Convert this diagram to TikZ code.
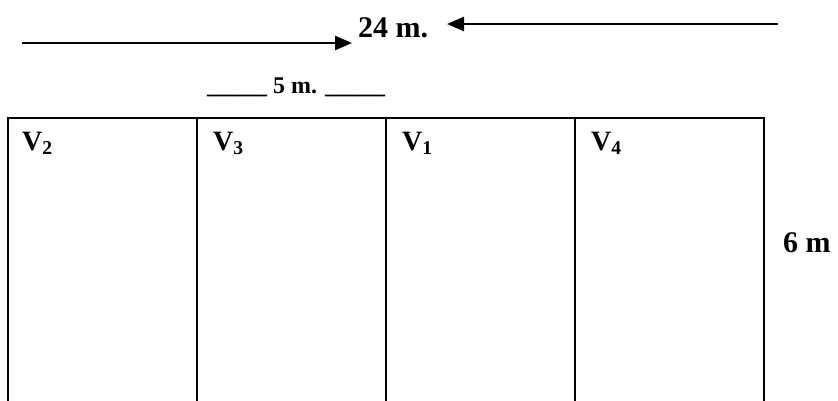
\documentclass[tikz,border=0pt]{standalone}
\usepackage{fontspec}
\setmainfont{Liberation Serif}
\usetikzlibrary{arrows.meta}
\begin{document}
\begin{tikzpicture}[x=1pt,y=-1pt,
  wall/.style={line width=2.7pt,line cap=rect},
  dimarrow/.style={line width=2.6pt,-{Triangle[length=17pt,width=14pt]}},
  biglabel/.style={inner sep=0pt,anchor=base west,font=\bfseries\fontsize{30}{36}\selectfont},
  midlabel/.style={inner sep=0pt,anchor=base west,font=\bfseries\fontsize{24}{29}\selectfont},
  vlabel/.style={inner sep=0pt,anchor=base west,font=\bfseries\fontsize{28}{34}\selectfont}]
\useasboundingbox (0,0) rectangle (838,400);
% top dimension
\node[biglabel] (total) at (358,37) {24 m.};
\coordinate (lstart) at (22,43);
\coordinate (ltip) at (352,43);
\coordinate (rstart) at (778,24);
\coordinate (rtip) at (447,24);
\draw[dimarrow] (lstart) -- (ltip);
\draw[dimarrow] (rstart) -- (rtip);
% bay width
\node[midlabel] (bay) at (207,93) {\_\_\_\_\_ 5 m. \_\_\_\_\_};
% building outline (open at the bottom)
\coordinate (c0t) at (8,118);   \coordinate (c0b) at (8,402);
\coordinate (c1t) at (197,118); \coordinate (c1b) at (197,402);
\coordinate (c2t) at (386,118); \coordinate (c2b) at (386,402);
\coordinate (c3t) at (575,118); \coordinate (c3b) at (575,402);
\coordinate (c4t) at (764,118); \coordinate (c4b) at (764,402);
\draw[wall] (c0t) -- (c4t);
\foreach \i in {0,...,4} \draw[wall] (c\i t) -- (c\i b);
% bay labels
\node[vlabel] (v2) at (22,150) {V\textsubscript{2}};
\node[vlabel] (v3) at (213,150) {V\textsubscript{3}};
\node[vlabel] (v1) at (402,150) {V\textsubscript{1}};
\node[vlabel] (v4) at (591,150) {V\textsubscript{4}};
% depth
\node[vlabel,font=\bfseries\fontsize{30}{36}\selectfont] (depth) at (783,252) {6 m};
\end{tikzpicture}
\end{document}
